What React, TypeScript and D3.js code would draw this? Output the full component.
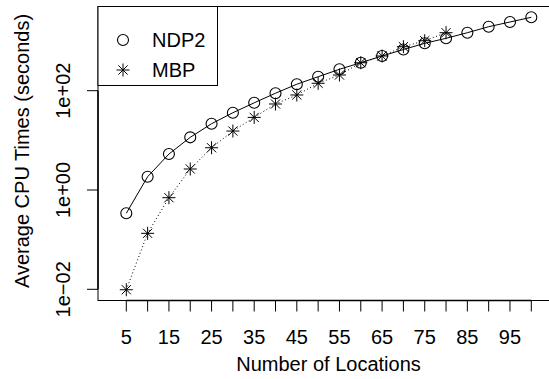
import React from "react";
import * as d3 from "d3";

const locations = [5, 10, 15, 20, 25, 30, 35, 40, 45, 50, 55, 60, 65, 70, 75, 80, 85, 90, 95, 100];
const ndp2 = [0.34, 1.85, 5.3, 11.5, 21.6, 36, 57, 89, 135, 191, 270, 366, 500, 676, 900, 1136, 1472, 1945, 2420, 3010];
const mbpLocations = [5, 10, 15, 20, 25, 30, 35, 40, 45, 50, 55, 60, 65, 70, 75, 80];
const mbp = [0.0098, 0.134, 0.7, 2.65, 7.1, 15.4, 29, 54, 82, 141, 207, 366, 500, 769, 1016, 1472];
const xTicks = [5, 10, 15, 20, 25, 30, 35, 40, 45, 50, 55, 60, 65, 70, 75, 80, 85, 90, 95, 100];
const xTickLabels = ["5", "", "15", "", "25", "", "35", "", "45", "", "55", "", "65", "", "75", "", "85", "", "95", ""];
const yTicks = [0.01, 1, 100];
const yTickLabels = ["1e\u221202", "1e+00", "1e+02"];
const seriesNames = ["NDP2", "MBP"];

const FONT = "'Liberation Sans', Arial, Helvetica, sans-serif";

function Star({ x, y, s }: { x: number; y: number; s: number }) {
  const d = s * 0.7071;
  return (
    <g stroke="#000" strokeWidth={1}>
      <line x1={x - s} y1={y} x2={x + s} y2={y} />
      <line x1={x} y1={y - s} x2={x} y2={y + s} />
      <line x1={x - d} y1={y - d} x2={x + d} y2={y + d} />
      <line x1={x - d} y1={y + d} x2={x + d} y2={y - d} />
    </g>
  );
}

export default function App() {
  const W = 549, H = 379;
  const box = { left: 98, top: 6.5, right: 560, bottom: 300.5 };
  const x = d3.scaleLinear().domain([5, 100]).range([126.3, 531.3]);
  const y = d3.scaleLog().domain([0.01, 100]).range([289.3, 90.7]);

  const line = d3.line<[number, number]>().x(d => x(d[0])).y(d => y(d[1]));
  const ndpPts: [number, number][] = locations.map((l, i) => [l, ndp2[i]]);
  const mbpPts: [number, number][] = mbpLocations.map((l, i) => [l, mbp[i]]);

  return (
    <svg width={W} height={H} style={{ position: "absolute", left: 0, top: 0, background: "#fff" }} fontFamily={FONT}>
      <rect x={0} y={0} width={W} height={H} fill="#fff" />
      <rect x={box.left} y={box.top} width={box.right - box.left} height={box.bottom - box.top} fill="none" stroke="#000" strokeWidth={1} />
      <path d={line(ndpPts) || ""} fill="none" stroke="#000" strokeWidth={1} />
      <path d={line(mbpPts) || ""} fill="none" stroke="#000" strokeWidth={1} strokeDasharray="1,2.5" />
      {ndpPts.map((p, i) => (
        <circle key={"c" + i} cx={x(p[0])} cy={y(p[1])} r={5.5} fill="none" stroke="#000" strokeWidth={1.1} />
      ))}
      {mbpPts.map((p, i) => (
        <Star key={"s" + i} x={x(p[0])} y={y(p[1])} s={6.5} />
      ))}
      <line x1={x(xTicks[0])} x2={x(xTicks[xTicks.length - 1])} y1={box.bottom} y2={box.bottom} stroke="#000" strokeWidth={1.5} />
      {xTicks.map((t, i) => (
        <g key={"xt" + i}>
          <line x1={x(t)} x2={x(t)} y1={box.bottom} y2={box.bottom + 11} stroke="#000" strokeWidth={1} />
          {xTickLabels[i] && (
            <text x={x(t)} y={344} textAnchor="middle" fontSize={20}>{xTickLabels[i]}</text>
          )}
        </g>
      ))}
      <line x1={box.left} x2={box.left} y1={y(yTicks[0])} y2={y(yTicks[yTicks.length - 1])} stroke="#000" strokeWidth={1.5} />
      {yTicks.map((t, i) => (
        <g key={"yt" + i}>
          <line x1={box.left - 11} x2={box.left} y1={y(t)} y2={y(t)} stroke="#000" strokeWidth={1} />
          <text transform={`translate(70,${y(t)}) rotate(-90)`} textAnchor="middle" fontSize={20}>{yTickLabels[i]}</text>
        </g>
      ))}
      <text x={328.5} y={371} textAnchor="middle" fontSize={20}>Number of Locations</text>
      <text transform={`translate(29,151) rotate(-90)`} textAnchor="middle" fontSize={20}>Average CPU Times (seconds)</text>
      <rect x={box.left} y={box.top} width={119.5} height={79} fill="#fff" stroke="#000" strokeWidth={1} />
      <circle cx={123} cy={40} r={5.5} fill="none" stroke="#000" strokeWidth={1.1} />
      <Star x={123} y={70} s={6.5} />
      <text x={152} y={47} fontSize={20}>{seriesNames[0]}</text>
      <text x={152} y={77} fontSize={20}>{seriesNames[1]}</text>
    </svg>
  );
}
